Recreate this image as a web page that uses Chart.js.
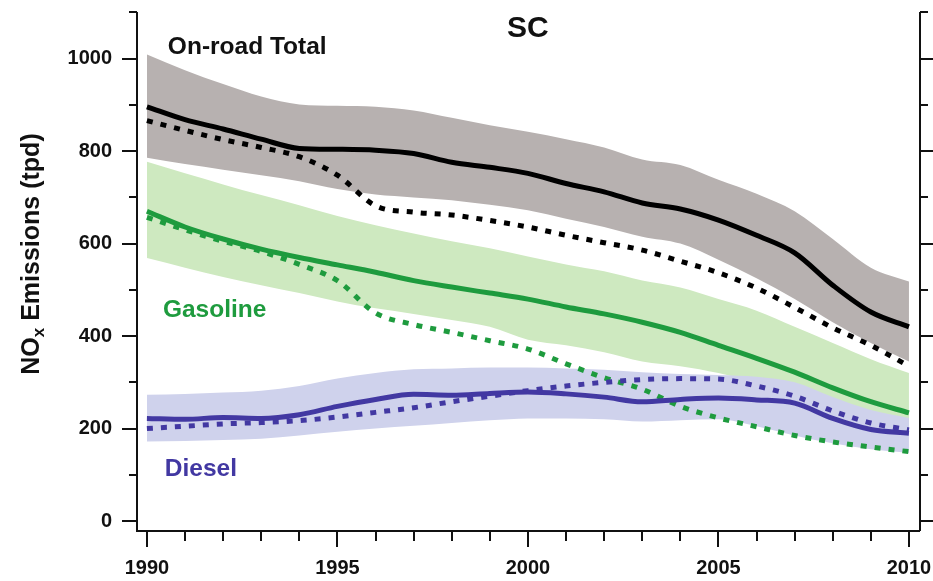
<!DOCTYPE html>
<html>
<head>
<meta charset="utf-8">
<script src="https://cdn.jsdelivr.net/npm/chart.js@4.4.0/dist/chart.umd.min.js"></script>
<style>
  body { margin: 0; background: #ffffff; }
</style>
</head>
<body>
<canvas id="chartjs-0" width="933" height="581"></canvas>
<script>
// NOx emissions, South Coast, tons per day
var years = [1990, 1991, 1992, 1993, 1994, 1995, 1996, 1997, 1998, 1999, 2000,
             2001, 2002, 2003, 2004, 2005, 2006, 2007, 2008, 2009, 2010];

var totalMid  = [896, 868, 848, 826, 806, 804, 802, 795, 776, 765, 752, 730, 712, 688, 675, 651, 618, 580, 510, 452, 420];
var totalAlt  = [866, 845, 825, 808, 788, 748, 682, 668, 662, 650, 636, 618, 602, 586, 562, 537, 504, 462, 418, 380, 335];
var totalHigh = [1009, 975, 945, 918, 901, 898, 896, 888, 872, 856, 842, 826, 808, 782, 770, 738, 708, 670, 610, 548, 518];
var totalLow  = [786, 772, 760, 748, 735, 718, 706, 700, 694, 684, 672, 654, 636, 615, 600, 565, 525, 480, 430, 385, 345];

var gasMid  = [670, 636, 610, 588, 570, 554, 538, 520, 506, 493, 480, 463, 448, 430, 408, 380, 352, 322, 288, 258, 234];
var gasAlt  = [657, 630, 605, 583, 555, 520, 450, 425, 408, 390, 372, 340, 310, 285, 248, 223, 204, 185, 171, 160, 150];
var gasHigh = [777, 752, 728, 705, 683, 660, 640, 622, 605, 590, 572, 555, 540, 520, 505, 480, 455, 420, 385, 350, 320];
var gasLow  = [569, 548, 528, 510, 493, 475, 460, 448, 435, 420, 392, 380, 365, 345, 335, 320, 298, 275, 250, 225, 205];

var dslMid  = [222, 220, 224, 222, 230, 248, 263, 274, 272, 276, 279, 275, 268, 258, 263, 266, 262, 255, 222, 198, 190];
var dslAlt  = [200, 205, 210, 213, 217, 225, 235, 245, 258, 270, 282, 292, 300, 306, 308, 307, 292, 270, 238, 212, 197];
var dslHigh = [273, 275, 278, 282, 292, 308, 320, 328, 330, 332, 332, 330, 327, 322, 318, 316, 312, 300, 268, 240, 223];
var dslLow  = [172, 173, 175, 178, 185, 193, 200, 206, 212, 218, 222, 222, 220, 215, 218, 220, 205, 185, 168, 155, 147];

var yTicks  = [0, 100, 200, 300, 400, 500, 600, 700, 800, 900, 1000, 1100];
var yLabels = [0, 200, 400, 600, 800, 1000];
var xLabels = [1990, 1995, 2000, 2005, 2010];

var FONT = "'Liberation Sans', Arial, Helvetica, sans-serif";
var GRAY_BAND = "rgb(183,177,176)";
var GREEN_BAND = "rgb(206,233,192)";
var BLUE_BAND = "rgb(207,210,236)";
var GREEN = "rgb(30,155,62)";
var BLUE = "rgb(66,56,162)";

function pts(arr) {
  return years.map(function (yr, i) { return { x: yr, y: arr[i] }; });
}

function band(upper, lower, color, ord) {
  return [
    { data: pts(upper), borderWidth: 0, pointRadius: 0, fill: "+1",
      backgroundColor: color, cubicInterpolationMode: "monotone", order: ord },
    { data: pts(lower), borderWidth: 0, pointRadius: 0, fill: false,
      cubicInterpolationMode: "monotone", order: ord }
  ];
}

function line(arr, color, dotted, ord) {
  return {
    data: pts(arr), borderColor: color, borderWidth: 5, pointRadius: 0,
    fill: false, cubicInterpolationMode: "monotone",
    borderDash: dotted ? [6, 8] : [], borderCapStyle: "butt", order: ord
  };
}

var datasets = []
  .concat(band(totalHigh, totalLow, GRAY_BAND, 30))
  .concat(band(gasHigh, gasLow, GREEN_BAND, 20))
  .concat(band(dslHigh, dslLow, BLUE_BAND, 10))
  .concat([
    line(totalAlt, "#000", true, 6),
    line(totalMid, "#000", false, 5),
    line(gasAlt, GREEN, true, 4),
    line(gasMid, GREEN, false, 3),
    line(dslAlt, BLUE, true, 2),
    line(dslMid, BLUE, false, 1)
  ]);

// scales keep no extra room for overhanging labels
function noPad(s) {
  s.paddingLeft = 0; s.paddingRight = 0; s.paddingTop = 0; s.paddingBottom = 0;
}

// frame, tick marks, title, axis title and series names
var decor = {
  id: "decor",
  afterDraw: function (chart) {
    var ctx = chart.ctx;
    var a = chart.chartArea;
    var xs = chart.scales.x, ys = chart.scales.y;
    ctx.save();
    ctx.strokeStyle = "#111";
    ctx.lineWidth = 2;
    ctx.beginPath();
    ctx.moveTo(a.left, a.top); ctx.lineTo(a.left, a.bottom); ctx.lineTo(a.right, a.bottom);
    ctx.moveTo(a.right, a.top); ctx.lineTo(a.right, a.bottom);
    yTicks.forEach(function (v) {
      var py = Math.round(ys.getPixelForValue(v));
      var big = yLabels.indexOf(v) >= 0;
      ctx.moveTo(a.left - (big ? 15 : 8), py); ctx.lineTo(a.left, py);
      ctx.moveTo(a.right, py); ctx.lineTo(a.right + (big ? 14 : 8), py);
    });
    years.forEach(function (yr) {
      var px = Math.round(xs.getPixelForValue(yr));
      var big = xLabels.indexOf(yr) >= 0;
      ctx.moveTo(px, a.bottom); ctx.lineTo(px, a.bottom + (big ? 16 : 10));
    });
    ctx.stroke();

    ctx.fillStyle = "#111";
    ctx.font = "bold 30px " + FONT;
    ctx.textAlign = "center";
    ctx.textBaseline = "middle";
    ctx.fillText("SC", xs.getPixelForValue(2000), 29);

    ctx.textAlign = "left";
    ctx.font = "bold 24.5px " + FONT;
    ctx.fillText("On-road Total", xs.getPixelForValue(1990.55), ys.getPixelForValue(1024));
    ctx.fillStyle = GREEN;
    ctx.fillText("Gasoline", xs.getPixelForValue(1990.42), ys.getPixelForValue(455));
    ctx.fillStyle = BLUE;
    ctx.fillText("Diesel", xs.getPixelForValue(1990.47), ys.getPixelForValue(112));

    // y axis title with subscript x
    ctx.fillStyle = "#111";
    ctx.translate(30, 254);
    ctx.rotate(-Math.PI / 2);
    var big = "bold 25px " + FONT, small = "bold 17px " + FONT;
    ctx.font = big;
    var w1 = ctx.measureText("NO").width;
    var w3 = ctx.measureText(" Emissions (tpd)").width;
    ctx.font = small;
    var w2 = ctx.measureText("x").width;
    var x0 = -(w1 + w2 + w3) / 2;
    ctx.textBaseline = "alphabetic";
    ctx.font = big;
    ctx.fillText("NO", x0, 9);
    ctx.font = small;
    ctx.fillText("x", x0 + w1, 14);
    ctx.font = big;
    ctx.fillText(" Emissions (tpd)", x0 + w1 + w2, 9);
    ctx.restore();
  }
};

var ctx0 = document.getElementById("chartjs-0");
var myChart = new Chart(ctx0, {
  type: "line",
  data: { datasets: datasets },
  options: {
    responsive: false,
    animation: false,
    layout: { padding: { top: 12, right: 13, left: 0, bottom: 0 } },
    plugins: { legend: { display: false }, tooltip: { enabled: false } },
    scales: {
      x: {
        type: "linear", min: 1989.74, max: 2010.29,
        grid: { display: false, drawTicks: false },
        border: { display: false },
        afterBuildTicks: function (s) { s.ticks = years.map(function (v) { return { value: v }; }); },
        afterFit: function (s) { s.height = 50; noPad(s); },
        ticks: {
          autoSkip: false, maxRotation: 0, padding: 25, color: "#111",
          font: { family: FONT, size: 20, weight: "bold" },
          callback: function (v) { return xLabels.indexOf(v) >= 0 ? String(v) : ""; }
        }
      },
      y: {
        min: -21.6, max: 1101,
        grid: { display: false, drawTicks: false },
        border: { display: false },
        afterBuildTicks: function (s) { s.ticks = yTicks.map(function (v) { return { value: v }; }); },
        afterFit: function (s) { s.width = 137; noPad(s); },
        ticks: {
          padding: 25, color: "#111",
          font: { family: FONT, size: 20, weight: "bold" },
          callback: function (v) { return yLabels.indexOf(v) >= 0 ? String(v) : ""; }
        }
      }
    }
  },
  plugins: [decor]
});
</script>
</body>
</html>
